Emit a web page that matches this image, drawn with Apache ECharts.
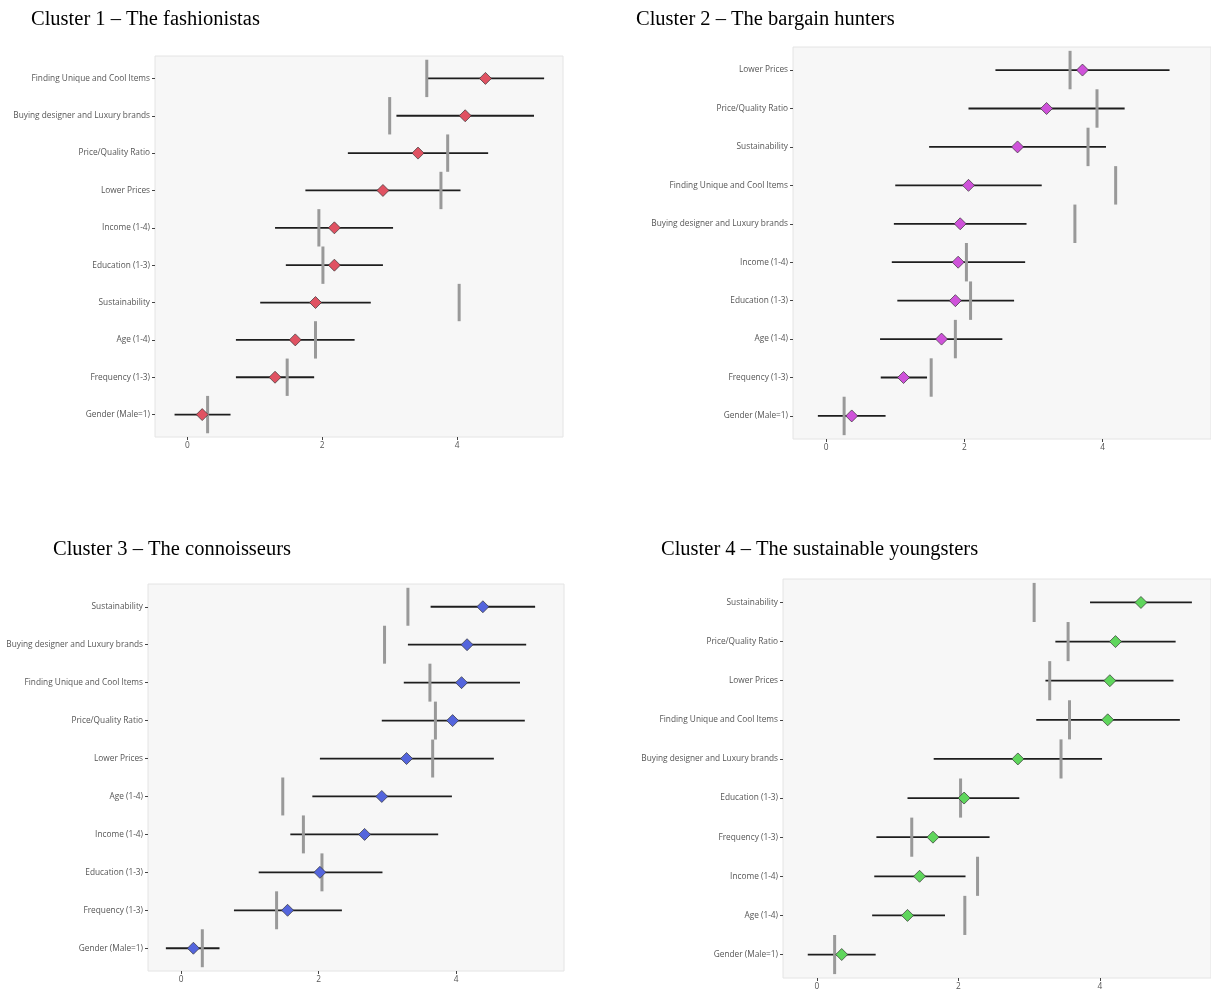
<!DOCTYPE html>
<html><head><meta charset="utf-8">
<script src="https://cdn.jsdelivr.net/npm/echarts@6/dist/echarts.min.js"></script>
<style>html,body{margin:0;padding:0;background:#fff}#chart{width:1211px;height:991px}</style>
</head><body><div id="chart"></div>
<script>
// ---- Data ----
const xTickValues = [0, 2, 4];

const c1Title = 'Cluster 1 – The fashionistas';
const c1Categories = ['Finding Unique and Cool Items','Buying designer and Luxury brands','Price/Quality Ratio','Lower Prices','Income (1-4)','Education (1-3)','Sustainability','Age (1-4)','Frequency (1-3)','Gender (Male=1)'];
const c1Mean    = [4.42, 4.12, 3.42, 2.90, 2.18, 2.18, 1.90, 1.60, 1.30, 0.22];
const c1Low     = [3.55, 3.10, 2.38, 1.75, 1.30, 1.46, 1.08, 0.72, 0.72, -0.19];
const c1High    = [5.29, 5.14, 4.46, 4.05, 3.05, 2.90, 2.72, 2.48, 1.88, 0.64];
const c1Overall = [3.55, 3.00, 3.86, 3.76, 1.95, 2.01, 4.03, 1.90, 1.48, 0.30];

const c2Title = 'Cluster 2 – The bargain hunters';
const c2Categories = ['Lower Prices','Price/Quality Ratio','Sustainability','Finding Unique and Cool Items','Buying designer and Luxury brands','Income (1-4)','Education (1-3)','Age (1-4)','Frequency (1-3)','Gender (Male=1)'];
const c2Mean    = [3.71, 3.19, 2.77, 2.06, 1.94, 1.91, 1.87, 1.67, 1.12, 0.37];
const c2Low     = [2.45, 2.06, 1.49, 1.00, 0.98, 0.95, 1.03, 0.78, 0.79, -0.12];
const c2High    = [4.97, 4.32, 4.05, 3.12, 2.90, 2.88, 2.72, 2.55, 1.46, 0.86];
const c2Overall = [3.53, 3.92, 3.79, 4.19, 3.60, 2.03, 2.09, 1.87, 1.52, 0.26];

const c3Title = 'Cluster 3 – The connoisseurs';
const c3Categories = ['Sustainability','Buying designer and Luxury brands','Finding Unique and Cool Items','Price/Quality Ratio','Lower Prices','Age (1-4)','Income (1-4)','Education (1-3)','Frequency (1-3)','Gender (Male=1)'];
const c3Mean    = [4.39, 4.16, 4.08, 3.95, 3.28, 2.92, 2.67, 2.02, 1.55, 0.18];
const c3Low     = [3.63, 3.30, 3.24, 2.92, 2.02, 1.91, 1.59, 1.13, 0.77, -0.22];
const c3High    = [5.15, 5.02, 4.93, 5.00, 4.55, 3.94, 3.74, 2.93, 2.34, 0.56];
const c3Overall = [3.30, 2.96, 3.62, 3.70, 3.66, 1.48, 1.78, 2.05, 1.39, 0.31];

const c4Title = 'Cluster 4 – The sustainable youngsters';
const c4Categories = ['Sustainability','Price/Quality Ratio','Lower Prices','Finding Unique and Cool Items','Buying designer and Luxury brands','Education (1-3)','Frequency (1-3)','Income (1-4)','Age (1-4)','Gender (Male=1)'];
const c4Mean    = [4.58, 4.22, 4.14, 4.11, 2.84, 2.08, 1.64, 1.45, 1.28, 0.35];
const c4Low     = [3.86, 3.37, 3.23, 3.10, 1.65, 1.28, 0.84, 0.81, 0.78, -0.13];
const c4High    = [5.30, 5.07, 5.04, 5.13, 4.03, 2.86, 2.44, 2.10, 1.81, 0.83];
const c4Overall = [3.07, 3.55, 3.29, 3.57, 3.45, 2.03, 1.34, 2.27, 2.09, 0.25];

// ---- Layout / style ----
const panels = [
  {title: c1Title, cats: c1Categories, mean: c1Mean, low: c1Low, high: c1High, ref: c1Overall, color: '#E05262',
   grid: {left: 155, top: 56, width: 408, height: 381}, titlePos: {left: 31, top: 9}},
  {title: c2Title, cats: c2Categories, mean: c2Mean, low: c2Low, high: c2High, ref: c2Overall, color: '#CF52DA',
   grid: {left: 793, top: 47, width: 420, height: 392}, titlePos: {left: 636, top: 9}},
  {title: c3Title, cats: c3Categories, mean: c3Mean, low: c3Low, high: c3High, ref: c3Overall, color: '#5465DD',
   grid: {left: 148, top: 584, width: 416, height: 387}, titlePos: {left: 53, top: 539}},
  {title: c4Title, cats: c4Categories, mean: c4Mean, low: c4Low, high: c4High, ref: c4Overall, color: '#5FD65C',
   grid: {left: 783, top: 579, width: 432, height: 402}, titlePos: {left: 661, top: 539}}
];

const labelFont = 'Open Sans';
const option = {
  animation: false,
  backgroundColor: '#ffffff',
  title: panels.map(p => ({
    text: p.title, left: p.titlePos.left, top: p.titlePos.top, padding: 0,
    textStyle: {fontFamily: 'Liberation Serif', fontSize: 20.5, fontWeight: 'normal', color: '#000'}
  })),
  grid: panels.map(p => Object.assign({show: true, backgroundColor: '#F7F7F7', borderColor: '#E4E4E4', borderWidth: 1}, p.grid)),
  xAxis: panels.map((p, i) => ({
    type: 'value', gridIndex: i, min: -0.48, max: 5.57, position: 'bottom',
    splitLine: {show: false}, axisLine: {show: false, onZero: false},
    axisTick: {show: true, customValues: xTickValues, length: 3, lineStyle: {color: '#444', width: 1}},
    axisLabel: {customValues: xTickValues, color: '#555', fontSize: 8.3, margin: 5, fontFamily: labelFont}
  })),
  yAxis: panels.map((p, i) => ({
    type: 'value', gridIndex: i, inverse: true, min: -0.6, max: 9.6, position: 'left',
    splitLine: {show: false}, axisLine: {show: false, onZero: false},
    axisTick: {show: true, customValues: p.cats.map((c, j) => j), length: 3, lineStyle: {color: '#444', width: 1}},
    axisLabel: {customValues: p.cats.map((c, j) => j), formatter: v => p.cats[Math.round(v)],
      color: '#555', fontSize: 8.3, margin: 5, fontFamily: labelFont}
  })),
  series: []
};

panels.forEach((p, i) => {
  option.series.push({
    type: 'custom', xAxisIndex: i, yAxisIndex: i, z: 2,
    data: p.cats.map((c, j) => [p.low[j], p.high[j], j]),
    encode: {x: [0, 1], y: 2},
    renderItem: (params, api) => {
      const a = api.coord([api.value(0), api.value(2)]);
      const b = api.coord([api.value(1), api.value(2)]);
      return {type: 'line', shape: {x1: a[0], y1: a[1], x2: b[0], y2: b[1]},
        style: {stroke: '#1e1e1e', lineWidth: 1.8}};
    }
  });
  option.series.push({
    type: 'custom', xAxisIndex: i, yAxisIndex: i, z: 3,
    data: p.ref.map((r, j) => [r, j]),
    encode: {x: 0, y: 1},
    renderItem: (params, api) => {
      const a = api.coord([api.value(0), api.value(1) - 0.5]);
      const b = api.coord([api.value(0), api.value(1) + 0.5]);
      return {type: 'line', shape: {x1: a[0], y1: a[1], x2: b[0], y2: b[1]},
        style: {stroke: '#999999', lineWidth: 3}};
    }
  });
  option.series.push({
    type: 'scatter', xAxisIndex: i, yAxisIndex: i, z: 4,
    data: p.mean.map((m, j) => [m, j]),
    symbol: 'diamond', symbolSize: 12,
    itemStyle: {color: p.color, borderColor: '#333', borderWidth: 0.7, opacity: 1}
  });
});

const chart = echarts.init(document.getElementById('chart'), null, {renderer: 'canvas'});
chart.setOption(option);
</script>
</body></html>
